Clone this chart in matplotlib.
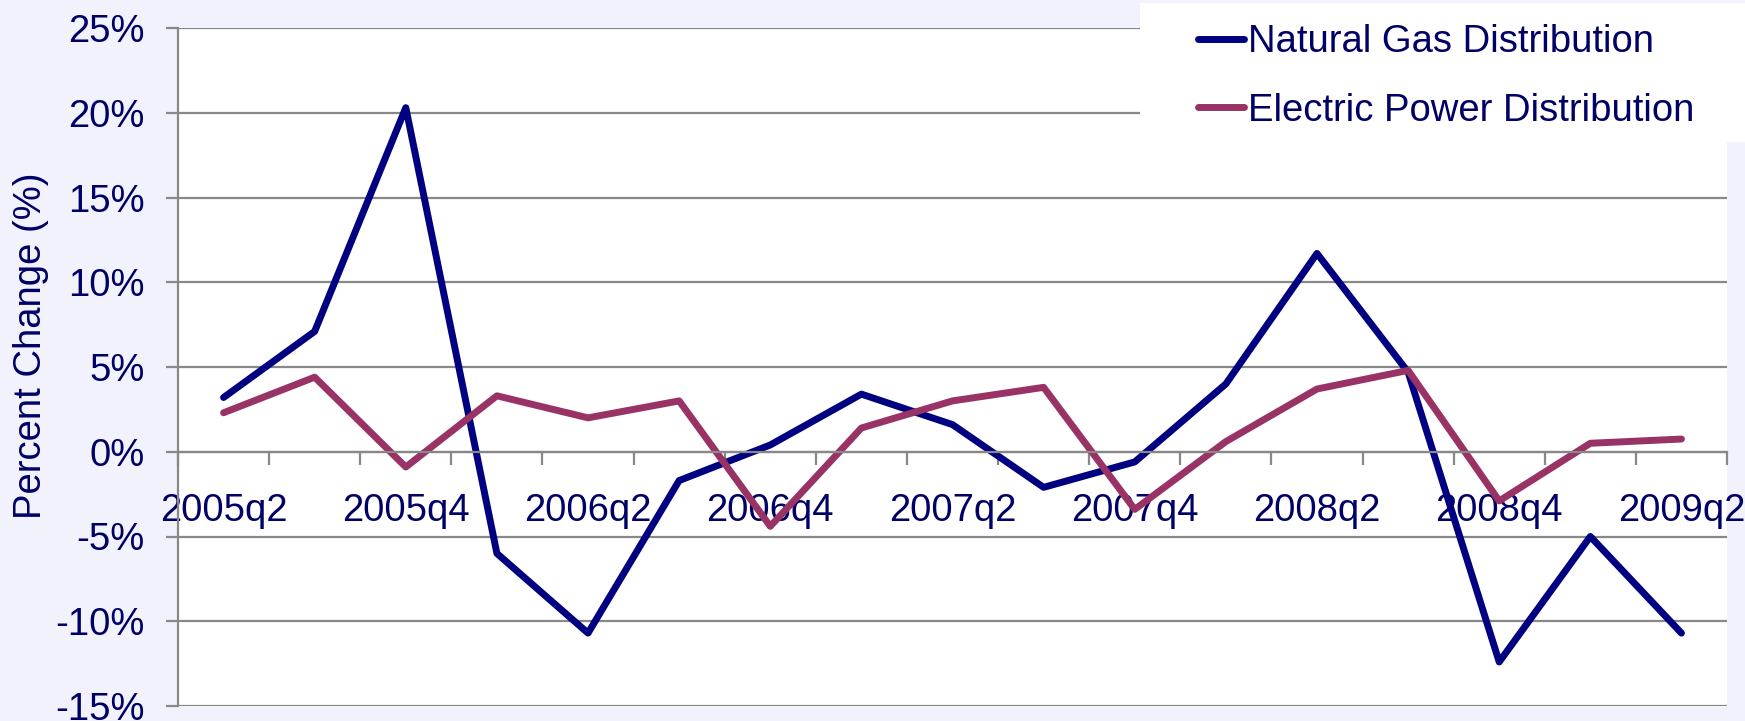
import numpy as np
import matplotlib.pyplot as plt
from matplotlib.patches import Rectangle
from matplotlib.ticker import FuncFormatter

quarters = ['2005q2', '2005q3', '2005q4', '2006q1', '2006q2', '2006q3', '2006q4',
            '2007q1', '2007q2', '2007q3', '2007q4', '2008q1', '2008q2', '2008q3',
            '2008q4', '2009q1', '2009q2']
gas = [3.2, 7.1, 20.3, -6.0, -10.7, -1.7, 0.4, 3.4, 1.6, -2.1, -0.6, 4.0, 11.7, 4.7, -12.4, -5.0, -10.7]
elec = [2.3, 4.4, -0.9, 3.3, 2.0, 3.0, -4.4, 1.4, 3.0, 3.8, -3.4, 0.6, 3.7, 4.8, -2.9, 0.5, 0.75]

navy = '#000080'
plum = '#993366'
txt = '#000066'
grey = '#888888'

plt.rcParams['font.family'] = ['Liberation Sans', 'DejaVu Sans']

fig = plt.figure(figsize=(17.45, 7.21), dpi=100, facecolor='#F2F2FD')
ax = fig.add_axes([178/1745, 15/721, (1727-178)/1745, (706-28)/721])
ax.set_facecolor('white')

x = np.arange(len(quarters))
ax.plot(x, gas, color=navy, lw=5.0, solid_capstyle='round', label='Natural Gas Distribution')
ax.plot(x, elec, color=plum, lw=5.0, solid_capstyle='round', label='Electric Power Distribution')

ax.set_xlim(-0.5, len(quarters) - 0.5)
ax.set_ylim(-15, 25)
ax.set_yticks(np.arange(-15, 26, 5))
ax.yaxis.set_major_formatter(FuncFormatter(lambda v, p: f'{v:.0f}%'))
ax.grid(axis='y', color=grey, lw=1.6)
ax.set_axisbelow(True)

for s in ['top', 'right']:
    ax.spines[s].set_visible(False)
ax.spines['left'].set_color(grey)
ax.spines['left'].set_linewidth(1.6)
ax.spines['bottom'].set_position(('data', 0))
ax.spines['bottom'].set_color(grey)
ax.spines['bottom'].set_linewidth(1.6)

ax.set_xticks(np.arange(-0.5, len(quarters), 1))
ax.set_xticklabels([])
ax.tick_params(axis='x', which='major', length=9, width=1.6, color=grey, direction='out')
ax.set_xticks(x[::2], minor=True)
ax.set_xticklabels(quarters[::2], minor=True)
ax.tick_params(axis='x', which='minor', length=0, pad=30, labelsize=27.5, labelcolor=txt)
ax.tick_params(axis='y', length=9, width=1.6, color=grey, pad=15, labelsize=27.5, labelcolor=txt)

ax.set_ylabel('Percent Change (%)', fontsize=27.5, color=txt)
ax.yaxis.set_label_coords(-0.083, 0.532)

fig.patches.append(Rectangle((1140/1745, 1 - 142/721), (1745-1140)/1745, (142-3)/721,
                             transform=fig.transFigure, facecolor='white',
                             edgecolor='none', zorder=1))
fig.legend(loc='upper left', bbox_to_anchor=(1198/1745, 1 - 24/721), frameon=False,
           borderpad=0, borderaxespad=0, handlelength=1.2, handletextpad=0.1,
           labelspacing=0.86, labelcolor=txt,
           prop={'family': ['Liberation Sans Narrow', 'Liberation Sans'], 'size': 27.5})

fig.savefig('out.png', dpi=100, facecolor=fig.get_facecolor())
